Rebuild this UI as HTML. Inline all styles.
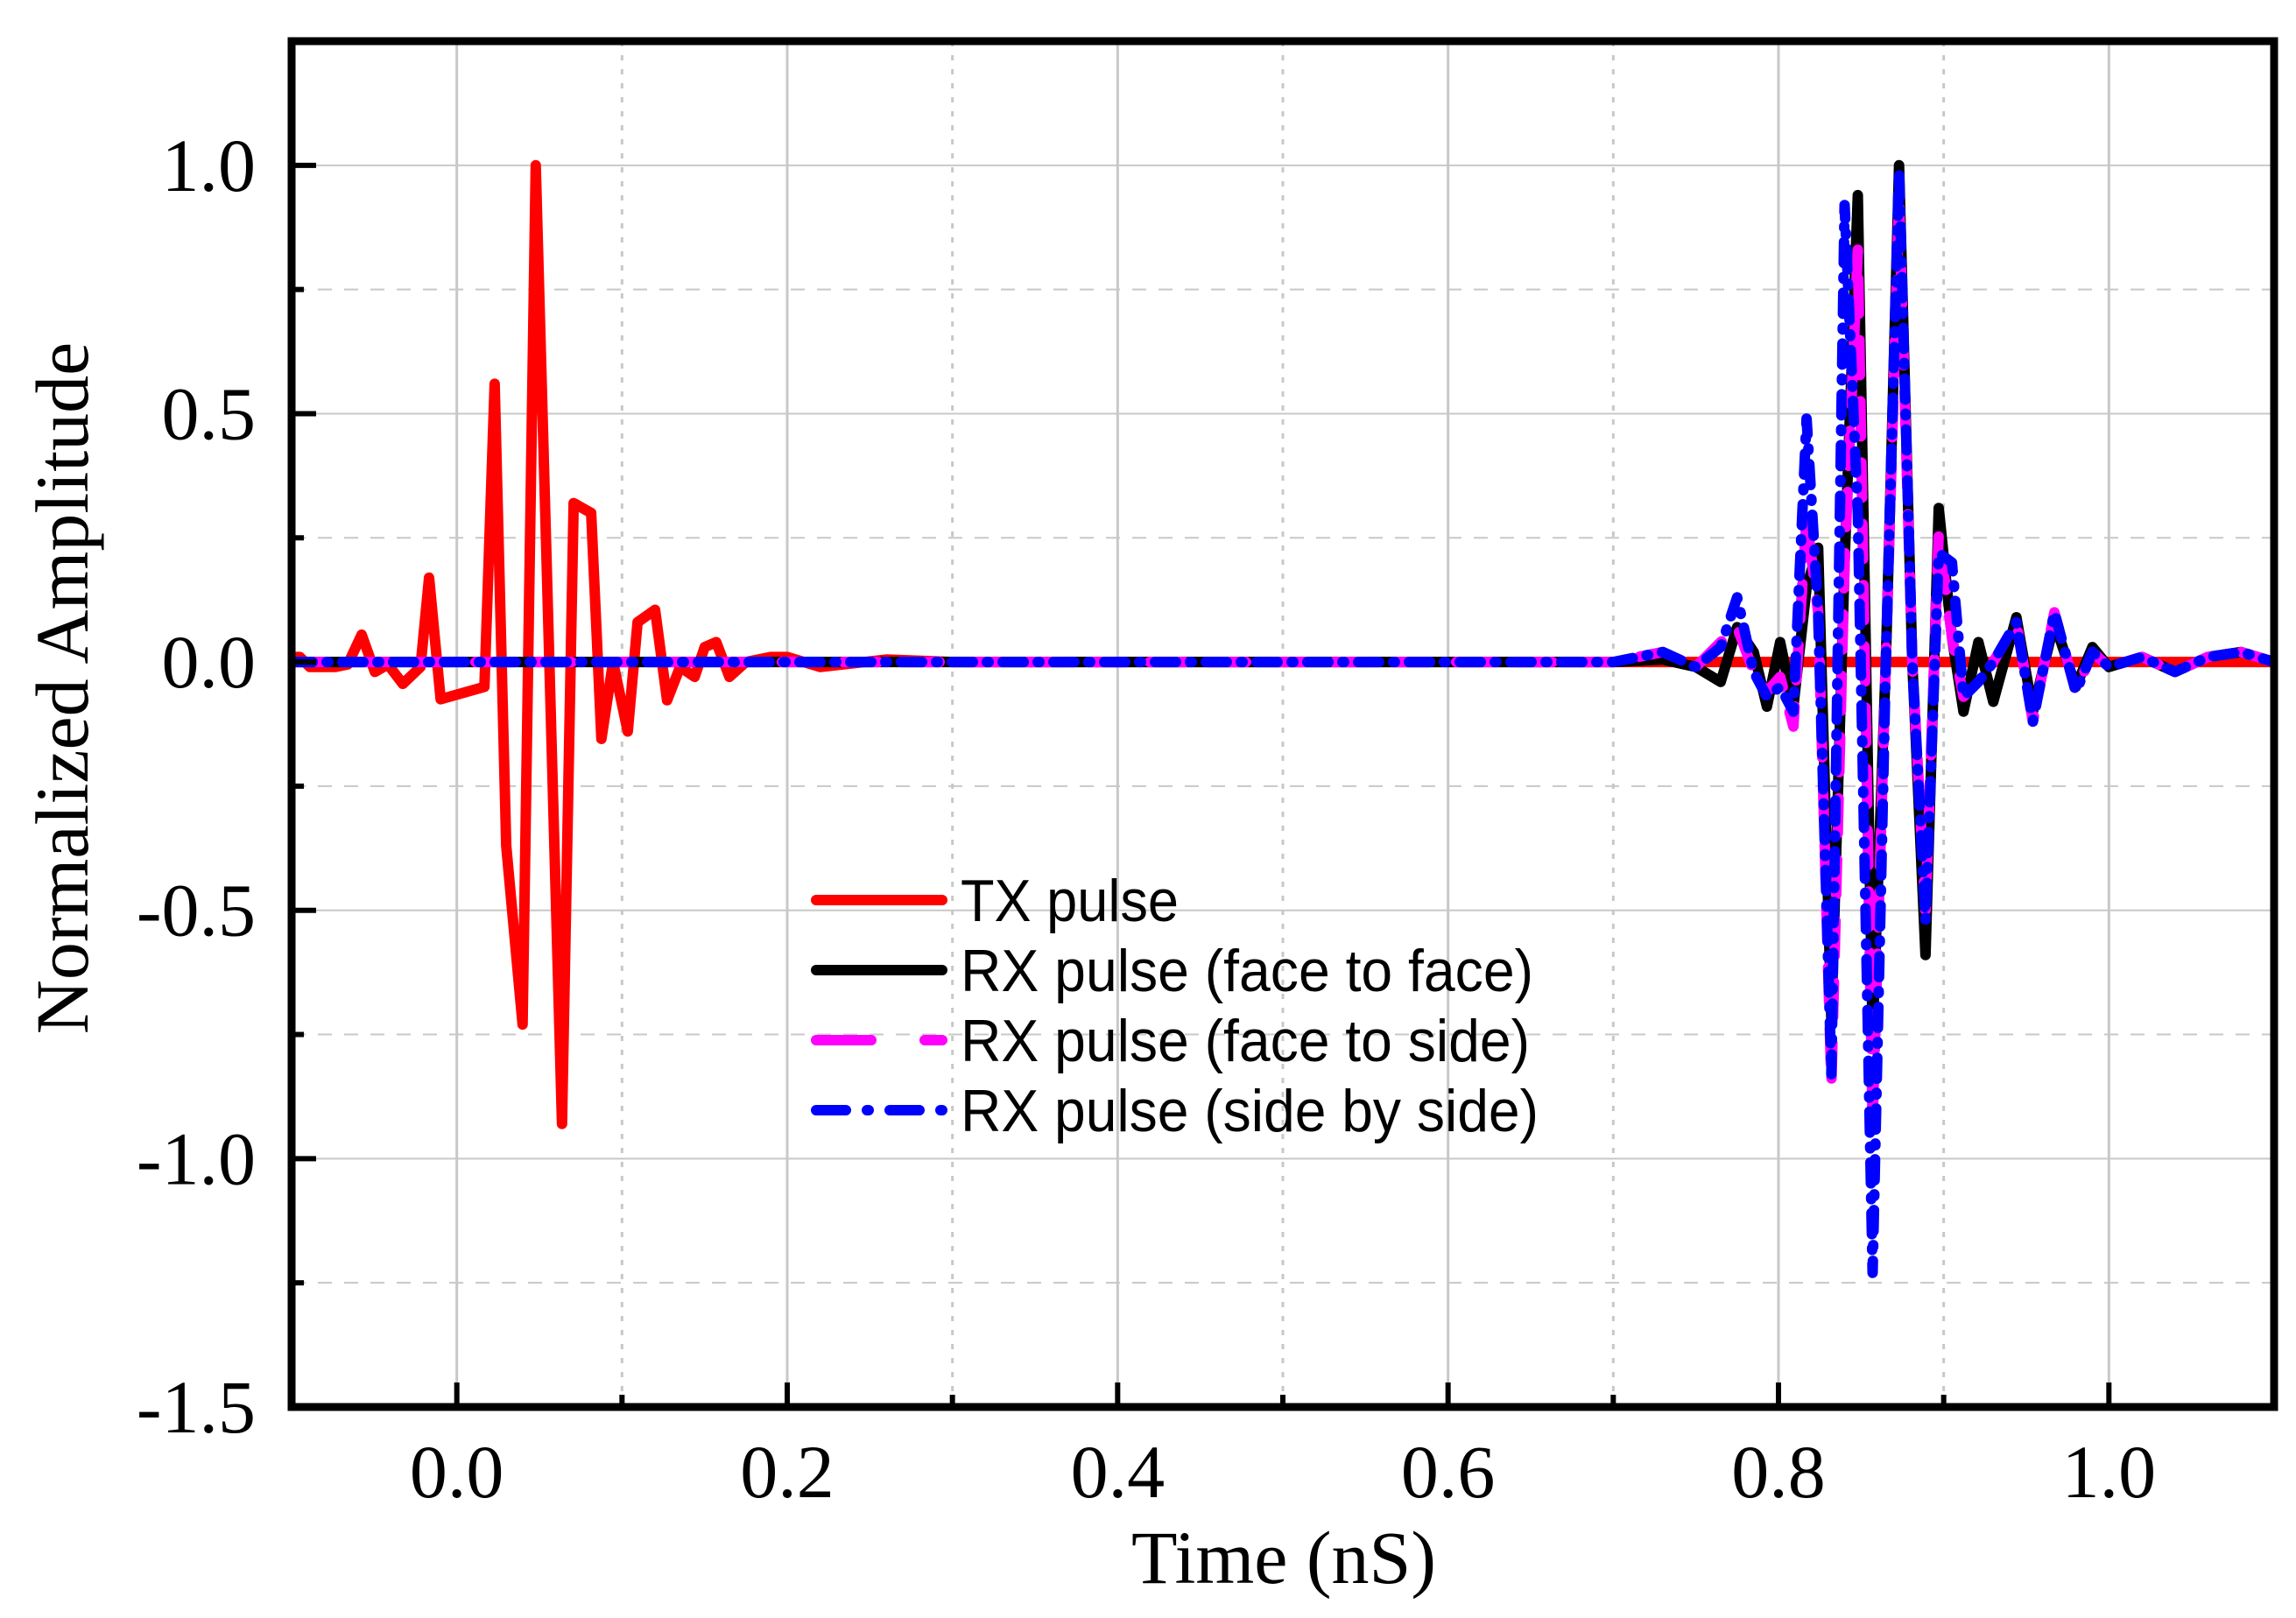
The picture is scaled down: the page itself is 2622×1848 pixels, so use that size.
<!DOCTYPE html>
<html><head><meta charset="utf-8"><style>
html,body{margin:0;padding:0;background:#fff;}
svg{display:block;}
</style></head><body>
<svg id="chart" width="2622" height="1848" viewBox="0 0 2622 1848" xmlns="http://www.w3.org/2000/svg">
<g id="grid"></g>
<g id="series"></g>
<g id="axes"></g>
<g id="legend"></g>
<text x="1466" y="1808" font-family="Liberation Serif, serif" font-size="86" text-anchor="middle">Time (nS)</text>
<text transform="translate(100,786) rotate(-90)" font-family="Liberation Serif, serif" font-size="86" text-anchor="middle">Normalized Amplitude</text>
</svg>
<script>
const xTicks=[0.0,0.2,0.4,0.6,0.8,1.0];
const xTickLabels=["0.0","0.2","0.4","0.6","0.8","1.0"];
const yTicks=[-1.5,-1.0,-0.5,0.0,0.5,1.0];
const yTickLabels=["-1.5","-1.0","-0.5","0.0","0.5","1.0"];

const txX=[-0.1,-0.095,-0.089,-0.0735,-0.066,-0.0576,-0.0496,-0.0417,-0.0327,-0.022,-0.0168,-0.0098,0.0167,0.0229,0.0299,0.0398,0.0478,0.0637,0.0707,0.0813,0.0875,0.0946,0.1035,0.1094,0.12,0.1273,0.1352,0.144,0.15,0.157,0.165,0.175,0.19,0.2,0.22,0.26,0.3,0.4,0.5,0.6,0.7,1.1];
const txY=[0.01,0.01,-0.01,-0.01,-0.005,0.055,-0.02,-0.005,-0.044,-0.01,0.17,-0.075,-0.05,0.56,-0.37,-0.73,1.0,-0.93,0.32,0.30,-0.155,0.0,-0.14,0.08,0.105,-0.077,-0.01,-0.03,0.03,0.04,-0.03,0.0,0.01,0.01,-0.01,0.005,0.0,0.0,0.0,0.0,0.0,0.0];

const rxX=[-0.1,0.2,0.4,0.6,0.7,0.73,0.75,0.765,0.775,0.785,0.793,0.801,0.809,0.817,0.824,0.832,0.840,0.848,0.857,0.865,0.873,0.881,0.889,0.897,0.905,0.912,0.921,0.93,0.944,0.954,0.967,0.98,0.99,1.0,1.02,1.04,1.06,1.08,1.1];
const rx1Y=[0.0,0.0,0.0,0.0,0.0,0.005,-0.01,-0.04,0.07,0.02,-0.09,0.04,-0.09,0.15,0.23,-0.72,0.2,0.94,-0.75,0.0,1.0,0.0,-0.59,0.31,0.05,-0.1,0.04,-0.08,0.09,-0.1,0.08,-0.05,0.03,-0.01,0.01,-0.02,0.01,0.02,0.0];
const rx2Y=[0.0,0.0,0.0,0.0,0.0,0.02,-0.01,0.04,0.07,-0.02,-0.06,-0.03,-0.13,0.29,0.1,-0.85,0.2,0.83,-0.93,0.0,0.93,0.0,-0.5,0.26,0.05,-0.07,-0.04,0.0,0.08,-0.12,0.1,-0.06,0.02,-0.01,0.01,-0.02,0.01,0.02,0.0];
const rx3Y=[0.0,0.0,0.0,0.0,0.0,0.02,-0.01,0.03,0.13,-0.02,-0.07,-0.05,-0.1,0.49,0.1,-0.83,0.92,0.3,-1.23,0.0,0.99,0.0,-0.52,0.22,0.2,-0.07,-0.04,0.0,0.08,-0.12,0.1,-0.06,0.02,-0.01,0.01,-0.02,0.01,0.02,0.0];

const NS='http://www.w3.org/2000/svg';
const X0=333,X1=2597,Y0=47,Y1=1607;
const xmin=-0.1,xmax=1.1,ymin=-1.5,ymax=1.25;
function sx(v){return X0+(v-xmin)/(xmax-xmin)*(X1-X0);}
function sy(v){return Y1-(v-ymin)/(ymax-ymin)*(Y1-Y0);}
function mk(tag,attrs,parent){const e=document.createElementNS(NS,tag);for(const k in attrs)e.setAttribute(k,attrs[k]);parent.appendChild(e);return e;}

const grid=document.getElementById('grid');
for(let i=-1;i<=11;i++){const v=i/10;const x=sx(v);
 const major=(i%2===0);
 const l=mk('line',{x1:x,x2:x,y1:Y0,y2:Y1,stroke:'#c8c8c8','stroke-width':3,'stroke-dasharray':major?'none':'6,10'},grid);
 
 }
for(let i=-6;i<=5;i++){const v=i/4;const y=sy(v);
 const major=(i%2===0);
 const l=mk('line',{x1:X0,x2:X1,y1:y,y2:y,stroke:'#c8c8c8','stroke-width':2,'stroke-dasharray':major?'none':'16,14'},grid);
 
 }

const series=document.getElementById('series');
function path(xs,ys){return xs.map((x,i)=>(i?'L':'M')+sx(x).toFixed(1)+','+sy(ys[i]).toFixed(1)).join(' ');}
const cp=mk('clipPath',{id:'plotclip'},series);mk('rect',{x:X0,y:Y0,width:X1-X0,height:Y1-Y0},cp);
const defs=[
 {xs:txX,ys:txY,c:'#ff0000',d:'none',n:'tx-pulse-line'},
 {xs:rxX,ys:rx1Y,c:'#000000',d:'none',n:'rx-face-to-face-line'},
 {xs:rxX,ys:rx2Y,c:'#ff00ff',d:'40,30',n:'rx-face-to-side-line'},
 {xs:rxX,ys:rx3Y,c:'#0000ff',d:'24,16,2,16',n:'rx-side-by-side-line'}];
defs.forEach(s=>{const p=mk('path',{d:path(s.xs,s.ys),fill:'none',stroke:s.c,'stroke-width':12,'stroke-linejoin':'round','stroke-linecap':'round','stroke-dasharray':s.d,'clip-path':'url(#plotclip)'},series);
 
 });

const axes=document.getElementById('axes');
const frame=mk('rect',{x:X0,y:Y0,width:X1-X0,height:Y1-Y0,fill:'none',stroke:'#000','stroke-width':9},axes);


for(let i=-1;i<=11;i++){const v=i/10;const x=sx(v);const len=(i%2===0)?28:14;
 const t=mk('line',{x1:x,x2:x,y1:Y1,y2:Y1-len,stroke:'#000','stroke-width':6},axes);
 
 }
for(let i=-6;i<=5;i++){const v=i/4;const y=sy(v);const len=(i%2===0)?28:14;
 const t=mk('line',{x1:X0,x2:X0+len,y1:y,y2:y,stroke:'#000','stroke-width':6},axes);
 
 }
xTicks.forEach((v,i)=>{const t=mk('text',{x:sx(v),y:1710,'font-family':'Liberation Serif, serif','font-size':86,'text-anchor':'middle'},axes);t.textContent=xTickLabels[i];
 
 });
yTicks.forEach((v,i)=>{const t=mk('text',{x:292,y:sy(v)+29,'font-family':'Liberation Serif, serif','font-size':86,'text-anchor':'end'},axes);t.textContent=yTickLabels[i];
 
 });

const legend=document.getElementById('legend');
const legItems=[
 {t:'TX pulse',c:'#ff0000',d:'none',w:249},
 {t:'RX pulse (face to face)',c:'#000000',d:'none',w:654},
 {t:'RX pulse (face to side)',c:'#ff00ff',d:'63,61',w:650},
 {t:'RX pulse (side by side)',c:'#0000ff',d:'34,24,2,24',w:660}];
legItems.forEach((it,i)=>{const y=1028+i*80;
 const l=mk('line',{x1:932,x2:1076,y1:y,y2:y,stroke:it.c,'stroke-width':12,'stroke-linecap':'round','stroke-dasharray':it.d},legend);
 
 
 const t=mk('text',{x:1097,y:y+24,'font-family':'Liberation Sans, sans-serif','font-size':68,textLength:it.w,lengthAdjust:'spacingAndGlyphs'},legend);t.textContent=it.t;
 
 });
</script>
</body></html>
